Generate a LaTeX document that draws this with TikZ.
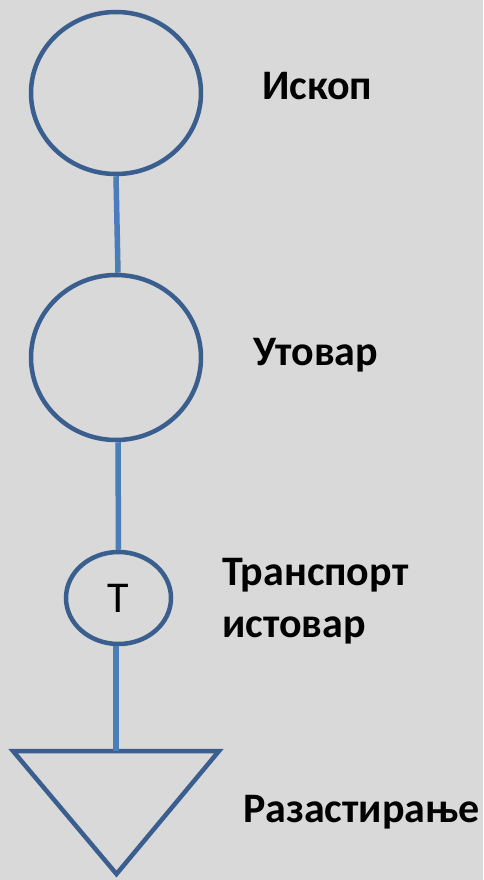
\documentclass[tikz,border=0pt]{standalone}
\usepackage{fontspec}
\setmainfont{Carlito}
\usetikzlibrary{shapes.geometric}
\definecolor{bgGray}{HTML}{D9D9D9}
\definecolor{shapeBlue}{HTML}{3A5F8F}
\definecolor{linkBlue}{HTML}{4A7EBB}
\tikzset{
  opcircle/.style={draw=shapeBlue, line width=4.5pt, ellipse, inner sep=0pt},
  link/.style={draw=linkBlue, line width=5.5pt},
  lbl/.style={anchor=base west, inner sep=0pt, font=\fontsize{42}{50}\selectfont\bfseries},
}
\begin{document}
\begin{tikzpicture}[x=1pt, y=-1pt]
  \useasboundingbox (0,0) rectangle (483,880);
  \fill[bgGray] (0,0) rectangle (483,880);

  % operations
  \node[opcircle, minimum width=170pt, minimum height=162pt] (dig) at (116,93) {};
  \node[opcircle, minimum width=170pt, minimum height=165pt] (load) at (116,357.5) {};
  \node[opcircle, minimum width=105pt, minimum height=92pt,
        font=\fontsize{44}{52}\selectfont] (haul) at (118.5,598) {T};

  % spreading: downward triangle
  \coordinate (tl) at (13,751);
  \coordinate (tr) at (219,751);
  \coordinate (tb) at (116.5,874);
  \coordinate (spread) at (116,751);
  \draw[shapeBlue, line width=4.5pt, line join=miter] (tl) -- (tr) -- (tb) -- cycle;

  % connectors
  \draw[link] (dig.south) -- ([xshift=2pt]load.north);
  \draw[link] ([xshift=2pt]load.south) -- (haul.north);
  \draw[link] ([xshift=-2.5pt]haul.south) -- (spread);

  % labels
  \node[lbl] (l1) at (262,100) {Ископ};
  \node[lbl] (l2) at (253,365) {Утовар};
  \node[lbl] (l3) at (222,585) {Транспорт};
  \node[lbl] (l4) at (222,637) {истовар};
  \node[lbl] (l5) at (243,822) {Разастирање};
\end{tikzpicture}
\end{document}
